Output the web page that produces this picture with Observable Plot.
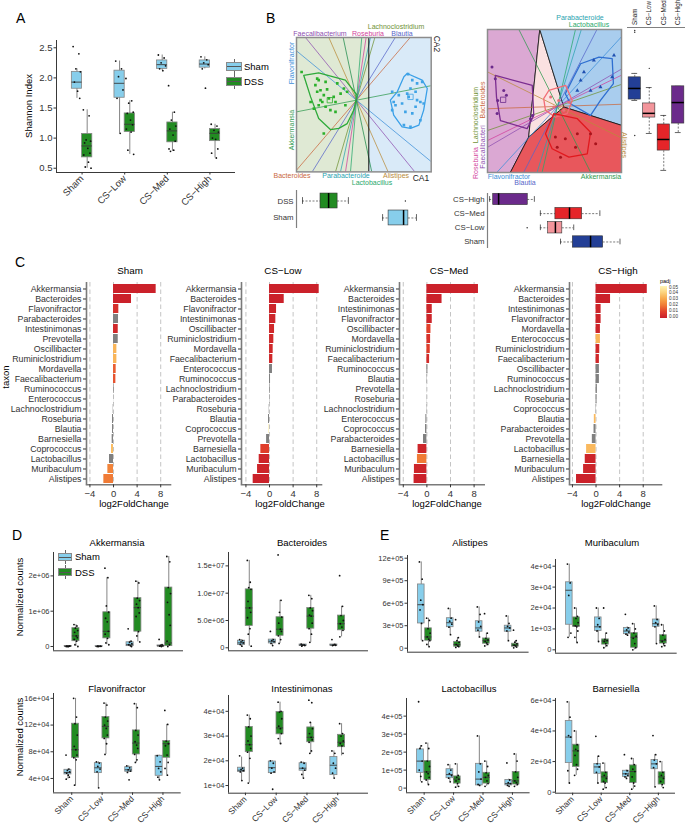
<!DOCTYPE html>
<html><head><meta charset="utf-8">
<script src="https://cdn.jsdelivr.net/npm/d3@7"></script>
<script src="https://cdn.jsdelivr.net/npm/@observablehq/plot@0.6"></script>
<style>
body{margin:0;background:#fff;}
#fig{position:relative;width:685px;height:827px;overflow:hidden;background:#fff;font-family:"Liberation Sans",Arial,Helvetica,sans-serif;}
</style></head><body><div id="fig"></div>
<script>
// ---------------- DATA ----------------
const groups = ["Sham","CS−Low","CS−Med","CS−High"];
const cohort = ["Sham","DSS"];

// Panel A: Shannon index, box stats [lo,q1,med,q3,hi]
const shanSham = [[1.66,1.82,1.93,2.10,2.15],[1.08,1.67,1.91,2.12,2.28],[2.12,2.15,2.22,2.29,2.38],[2.15,2.17,2.23,2.29,2.35]];
const shanDss  = [[0.50,0.68,0.87,1.07,1.47],[0.73,1.10,1.23,1.41,1.62],[0.78,0.93,1.12,1.26,1.43],[0.67,0.95,1.08,1.15,1.23]];
const shanShamPts = [[2.52,2.40,2.15,2.10,1.93,1.78,1.66],[2.28,2.15,2.02,1.80,1.66,1.08],[2.38,2.33,2.25,2.20,2.15,2.12],[2.35,2.30,2.25,2.22,2.15,1.83]];
const shanDssPts  = [[1.47,1.37,0.97,0.95,0.92,0.83,0.75,0.72,0.60,0.52,0.50],[1.99,1.62,1.58,1.43,1.41,1.30,1.22,1.15,1.10,0.80,0.73],[1.87,1.43,1.30,1.20,1.15,1.05,0.95,0.82,0.80,0.78],[1.23,1.20,1.13,1.10,1.00,0.98,0.82,0.75,0.67]];
const shanTicks = [0.5,1.0,1.5,2.0,2.5];
const shanTickLabels = ["0.5","1.0","1.5","2.0","2.5"];

// Panel B left: CA biplot DSS vs Sham
const bTaxCol = {Faecalibacterium:"#8e4fb0",Alistipes:"#b98b3a",Flavonifractor:"#3b8ed8",Akkermansia:"#2f9a4f",Bacteroides:"#c9683e",Blautia:"#5765c9",Roseburia:"#d23f9c",Lachnoclostridium:"#6f9236",Parabacteroides:"#2aa3b0",Lactobacillus:"#28a86b",Intestinimonas:"#1e8a4a"};
const bLtaxa = ["Faecalibacterium","Alistipes","Flavonifractor","Akkermansia","Bacteroides","Blautia","Roseburia","Lachnoclostridium","Parabacteroides","Lactobacillus","Intestinimonas"];
const bLdx = [-153,-83,-180,-180,-180,-133,-33,-63,-48,-18,-40];
const bLdy = [188,188,148,-35,-210,-215,-215,-215,-215,-215,188];
const bLsplit = 0.41;
const bLdssX = [-1.83,-1.31,-1.26,-1.03,-1.37,-1.2,-1.31,-0.98,-1.09,-1.2,-1.14,-0.92,-0.76,-0.7,-1.26,-1.03,-0.87,-0.7,-1.42,-0.64,-0.42,-0.31,-0.53,-0.37,-1.09,-1.53];
const bLdssY = [0.94,0.72,0.67,0.61,0.50,0.33,0.28,0.36,0.17,0,-0.06,0.06,0.11,-0.06,-0.17,-0.22,-0.33,-0.39,-0.28,0.56,0.39,0.28,0.22,-0.17,-1.11,-0.06];
const bLshamX = [1.72,1.86,2.02,2.19,1.8,1.97,1.69,1.19,1.41,1.24,1.3,1.52,1.74,2.02,2.13,2.24,1.63,1.86,2.13,1.8,1.58,1.19,1.97];
const bLshamY = [0.87,0.67,0.56,0.61,0.39,0.28,0.22,0.28,0.17,-0.06,-0.17,-0.11,0.11,0,-0.06,-0.11,-0.39,-0.44,-0.67,-0.89,-0.83,-0.33,-0.22];
const bLdssHullX = [-1.76,-1.26,-0.37,0.02,-0.09,-0.31,-0.59,-0.87,-1.26,-1.53];
const bLdssHullY = [0.83,0.91,0.67,0.17,-0.33,-0.78,-0.94,-0.98,-0.61,0.11];
const bLshamHullX = [1.69,2.19,2.36,2.24,2.08,1.8,1.52,1.24,1.13,1.36,1.58];
const bLshamHullY = [0.89,0.67,0.39,-0.33,-0.83,-0.94,-0.89,-0.5,0,0.28,0.78];
const bLcentX = [-0.89,1.8], bLcentY = [0,0.11];
const bLboxStats = [[0.87,1.07,1.57,1.73,2.0],[-1.8,-1.2,-0.93,-0.63,-0.27]]; // Sham, DSS (CA1)
const bLboxOut = [1.63]; // DSS row

// Panel B right: CA biplot by group
const bRtaxa = ["Bacteroides","Alistipes","Akkermansia","Flavonifractor","Blautia","Parabacteroides","Lactobacillus","Lachnoclostridium","Roseburia","Faecalibacterium"];
const bRdx = [-209,-209,99,-181,-101,-61,-46,-209,-209,-209];
const bRdy = [-7,103,-197,-197,-197,-197,-197,-72,-102,-122];
const bRgroupCol = {"Sham":"#233f96","CS−Low":"#f3959b","CS−Med":"#e52529","CS−High":"#6b2a8b"};
const bRregionCol = {"Sham":"#a9cdee","CS−Low":"#fbe1e1","CS−Med":"#e8575c","CS−High":"#dba8d3"};
const bRregionX = {"CS−High":[-2.33,-0.59,-0.96,-1.57,-2.33],"CS−Low":[-0.59,0.21,-0.96],"Sham":[-0.59,2.13,2.13,0.21],"CS−Med":[-0.96,0.21,2.13,2.13,-1.57]};
const bRregionY = {"CS−High":[2.56,2.56,-1.02,-2.2,-2.2],"CS−Low":[2.56,-0.02,-1.02],"Sham":[2.56,2.56,-0.63,-0.02],"CS−Med":[-1.02,-0.02,-0.63,-2.2,-2.2]};
const bRhullCol = {"Sham":"#2f6fd0","CS−Low":"#f26d75","CS−Med":"#e0191e","CS−High":"#7b2d90"};
const bRhullX = {"CS−High":[-2.07,-0.84,-0.79,-1.01,-1.9,-2.03],"Sham":[0.77,1.38,1.82,1.86,1.43,1.1,0.43,0.26,0.54],"CS−Low":[-0.29,0.27,0.49,0.32,-0.07,-0.4,-0.46],"CS−Med":[-0.12,0.66,1.1,0.99,0.38,-0.18,-0.4]};
const bRhullY = {"CS−High":[1.03,0.7,-0.3,-0.74,-0.47,0.31],"Sham":[1.42,1.64,1.59,0.76,0.2,-0.3,0.09,0.42,0.98],"CS−Low":[0.53,0.7,0.2,-0.24,-0.36,-0.13,0.26],"CS−Med":[-0.24,-0.41,-0.86,-1.58,-1.69,-1.41,-0.91]};
const bRptsX = {"CS−High":[-2.18,-1.79,-2.07,-2.01,-0.9,-0.84,-1.7,-1.99],"CS−Med":[-0.01,0.1,0.26,0.6,1.1,1.27,0.66,-0.07],"Sham":[1.21,1.88,1.82,0.77,0.66,1.1,1.43,0.88],"CS−Low":[-0.23,0.04,0.38,0.21,-0.12]};
const bRptsY = {"CS−High":[1.31,0.53,0.92,-0.24,-0.41,-0.3,0.37,0.2],"CS−Med":[-1.36,-1.69,-1.08,-1.36,-0.91,-1.24,-0.91,-1.02],"Sham":[1.53,1.7,0.98,0.87,0.53,0.53,0.64,1.14],"CS−Low":[0.31,0.2,0.14,-0.13,-0.02]};
const bRcentX = [-1.81], bRcentY = [0.22];
// CA1 box (rows Sham, CS-Low, CS-Med, CS-High)
const bRboxCA1 = [[0.1,0.51,1.1,1.52,2.08],[-0.57,-0.31,-0.07,0.16,0.54],[-0.57,-0.07,0.4,0.82,1.41],[-2.26,-2.14,-1.96,-0.99,-0.77]];
const bRboxCA1out = [[2,-1.01]];
// CA2 box (cols Sham, CS-Low, CS-Med, CS-High)
const bRboxCA2 = [[0.2,0.23,0.6,0.97,1.1],[-0.9,-0.37,-0.23,0.1,0.63],[-2.13,-1.47,-1.1,-0.6,-0.3],[-0.87,-0.57,0.13,0.67,0.67]];
const bRboxCA2out = [[1,2.53],[1,2.47],[1,-0.97],[2,1.27]];

// Panel C: DESeq2 log2FoldChange per cohort
const cFacets = ["Sham","CS−Low","CS−Med","CS−High"];
const cTaxaSham = ["Akkermansia","Bacteroides","Flavonifractor","Parabacteroides","Intestinimonas","Prevotella","Oscillibacter","Ruminiclostridium","Mordavella","Faecalibacterium","Ruminococcus","Enterococcus","Lachnoclostridium","Roseburia","Blautia","Barnesiella","Coprococcus","Lactobacillus","Muribaculum","Alistipes"];
const cLfcSham = [7.23,3.05,0.90,0.85,0.80,0.80,0.57,0.57,0.45,0.40,0.10,0.02,-0.05,-0.17,-0.17,-0.23,-0.34,-0.68,-0.96,-1.64];
const cPadjSham = [0.001,0.001,0.005,null,0.003,null,0.033,0.033,0.015,0.013,null,null,null,null,null,null,0.035,null,0.022,0.020];
const cTaxaLow = ["Akkermansia","Bacteroides","Flavonifractor","Intestinimonas","Oscillibacter","Ruminiclostridium","Mordavella","Faecalibacterium","Enterococcus","Ruminococcus","Lachnoclostridium","Parabacteroides","Roseburia","Blautia","Coprococcus","Prevotella","Barnesiella","Lactobacillus","Muribaculum","Alistipes"];
const cLfcLow = [8.42,2.49,1.19,1.07,0.85,0.73,0.62,0.56,0.50,0.17,0.10,0.05,-0.05,-0.17,-0.10,-0.50,-1.47,-1.75,-2.03,-2.77];
const cPadjLow = [0.001,0.001,0.002,0.002,0.003,0.003,0.003,0.003,null,null,null,null,null,null,0.048,null,0.009,0.002,0.002,0.001];
const cTaxaMed = ["Akkermansia","Bacteroides","Intestinimonas","Flavonifractor","Oscillibacter","Mordavella","Ruminiclostridium","Faecalibacterium","Ruminococcus","Blautia","Prevotella","Roseburia","Lachnoclostridium","Enterococcus","Coprococcus","Parabacteroides","Barnesiella","Lactobacillus","Muribaculum","Alistipes"];
const cLfcMed = [8.74,2.57,0.91,0.91,0.69,0.63,0.57,0.46,0.17,0.06,0.02,-0.03,-0.05,-0.17,-0.23,-0.57,-1.49,-1.60,-2.11,-2.17];
const cPadjMed = [0.001,0.001,0.002,0.002,0.010,0.006,0.009,0.004,null,null,null,null,null,null,null,null,0.002,0.020,0.002,0.001];
const cTaxaHigh = ["Akkermansia","Bacteroides","Intestinimonas","Flavonifractor","Mordavella","Enterococcus","Ruminiclostridium","Faecalibacterium","Oscillibacter","Ruminococcus","Lachnoclostridium","Roseburia","Coprococcus","Blautia","Parabacteroides","Prevotella","Lactobacillus","Barnesiella","Muribaculum","Alistipes"];
const cLfcHigh = [8.69,2.46,0.86,0.86,0.74,0.74,0.63,0.57,0.57,0.57,0.23,0.17,0.06,-0.29,-0.34,-0.63,-1.60,-1.83,-2.11,-3.31];
const cPadjHigh = [0.001,0.001,0.002,0.002,0.002,0.033,0.003,0.003,null,null,null,null,null,0.034,null,null,0.034,0.002,0.002,0.001];
const cDomains = [[-4.58,9.66],[-4.75,8.81],[-4.64,9.71],[-4.5,11.1]];
const cTicks = [-4,0,4,8];
const padjStops = [0,0.01,0.02,0.03,0.04,0.05];
const padjColors = ["#c81e2a","#e2402b","#f07b36","#f8a84a","#fcd27c","#fff4b5"];
const padjLabels = ["0.05","0.04","0.03","0.02","0.01","0.00"];

// Panels D/E: normalized counts (box stats [lo,q1,med,q3,hi] in display units)
const akkSham = [[0,0,0.005,0.012,0.02],[0,0,0.004,0.01,0.02],[0,0.01,0.05,0.12,0.15],[0,0.005,0.015,0.03,0.05]];
const akkDss = [[0,0.15,0.30,0.52,0.62],[0.05,0.23,0.43,0.97,1.95],[0.13,0.42,1.10,1.37,1.85],[0,0.01,0.10,1.67,2.55]];
const akkShamPts = [[0,0.01,0,0.02,0.01,0],[0,0.01,0,0.005,0.01],[0.5,0.15,0.12,0.08,0.05,0.02,0],[0.2,0.05,0.03,0.02,0.01,0]];
const akkDssPts = [[0.62,0.58,0.52,0.45,0.40,0.30,0.25,0.20,0.15,0.05,0],[2.22,1.95,1.15,0.97,0.80,0.70,0.43,0.35,0.23,0.10,0.05],[1.85,1.80,1.37,1.30,1.20,1.10,0.95,0.85,0.42,0.30,0.13],[2.55,2.40,1.67,1.50,1.25,0.90,0.60,0.15,0.05,0]];
const bacSham = [[0.2,0.5,0.9,1.3,1.5],[0.4,0.8,1.2,1.5,1.6],[0.25,0.35,0.5,0.6,0.65],[0.35,0.4,0.5,0.6,0.65]];
const bacDss = [[0.3,4.0,7.3,10.7,16.0],[0.8,2.2,3.4,5.6,8.7],[1.0,3.5,5.8,7.3,9.6],[2.0,3.2,4.4,5.9,7.6]];
const bacShamPts = [[1.5,1.3,1.1,0.9,0.6,0.3],[3.0,1.5,1.3,1.1,0.8,0.4],[0.65,0.55,0.5,0.4,0.3],[1.5,0.6,0.5,0.45,0.4]];
const bacDssPts = [[16,12,11,10.7,8.5,7.3,6.5,5.5,3.5,2.5,0.3],[17,8.7,6.5,5.6,4.5,3.4,3.0,2.2,1.5,0.8],[9.6,9.0,7.3,6.8,6.0,5.8,4.5,3.5,2.5,1.0],[13.2,7.6,5.9,5.0,4.4,3.8,3.2,2.0]];
const aliSham = [[1.0,3.3,5.8,8.5,11.5],[1.8,2.8,3.4,4.0,5.3],[1.5,2.2,2.7,3.6,5.5],[1.0,2.2,2.7,3.0,4.3]];
const aliDss = [[0.2,1.0,1.5,2.65,4.0],[0.1,0.2,0.5,0.85,1.4],[0.3,0.6,1.0,1.3,2.0],[0.05,0.2,0.4,0.6,1.0]];
const aliShamPts = [[11.5,9.2,6.4,5.8,5.1,3.3,1.0],[5.3,4.0,3.6,3.2,2.8,1.8],[5.5,4.5,3.5,2.9,2.4,1.5],[4.3,3.3,2.9,2.7,2.3,1.0]];
const aliDssPts = [[4.0,3.7,2.6,2.0,1.5,1.2,1.0,0.5,0.2],[3.8,1.4,1.0,0.8,0.5,0.3,0.2,0.1],[4.6,2.0,1.3,1.1,0.9,0.7,0.5,0.3],[2.4,1.0,0.8,0.6,0.4,0.3,0.15,0.05]];
const murSham = [[0.6,1.2,2.85,3.23,4.1],[0.4,0.9,1.1,1.55,2.0],[0.7,0.75,0.9,1.05,1.1],[0.3,1.1,1.25,1.45,2.1]];
const murDss = [[0.35,1.1,1.15,1.55,2.0],[0.1,0.25,0.42,0.5,0.8],[0,0.1,0.6,0.8,1.25],[0.15,0.3,0.45,0.7,1.2]];
const murShamPts = [[4.1,3.2,2.6,0.8,0.6],[2.0,1.5,1.2,1.1,0.9,0.4],[1.7,1.05,0.95,0.85,0.75,0.7],[2.1,1.45,1.3,1.2,1.1,0.3]];
const murDssPts = [[2.0,1.6,1.5,1.3,1.15,1.1,0.9,0.6,0.35],[2.0,0.8,0.5,0.45,0.4,0.3,0.2,0.1],[1.25,1.0,0.8,0.65,0.55,0.3,0.1,0],[1.2,0.9,0.7,0.5,0.4,0.3,0.2,0.15]];
const flaSham = [[3.9,4.6,4.9,5.3,5.4],[2.6,4.8,5.6,6.3,6.5],[4.9,5.0,5.3,5.7,5.9],[3.8,4.4,5.8,7.4,7.5]];
const flaDss = [[2.9,7.1,8.3,12.2,16.0],[7.6,10.0,11.8,13.2,15.3],[6.4,7.6,9.3,11.2,15.2],[4.5,7.1,9.2,9.6,12.1]];
const flaShamPts = [[7.5,5.4,5.2,5.0,4.8,4.5,4.2,3.9],[6.5,6.3,5.8,5.4,5.0,2.6],[5.9,5.6,5.3,5.1,4.9,3.8],[7.4,6.5,5.5,5.0,4.2,3.8]];
const flaDssPts = [[16,13.2,12.2,10.5,8.8,8.3,7.5,7.1,6.8,3.0],[15.3,15,13.2,12.6,12,11.5,10.5,10,9.2,7.6],[15.2,14.6,11.2,10.5,9.5,9.0,8.5,7.6,6.8,6.4],[14.2,12.1,9.6,9.2,8.9,7.5,6.4,5.5,4.5]];
const intSham = [[1.2,1.55,1.62,1.72,2.15],[1.5,1.5,1.72,1.97,2.0],[1.3,1.6,1.7,1.9,1.95],[1.3,1.42,1.82,2.15,2.4]];
const intDss = [[1.1,2.35,2.65,3.37,3.85],[2.65,3.07,3.33,3.97,4.37],[2.3,2.75,2.95,3.35,3.55],[2.2,2.55,2.75,3.05,3.5]];
const intShamPts = [[2.2,1.7,1.65,1.6,1.55,1.2],[2.0,1.9,1.7,1.55,1.5,0.85],[1.95,1.9,1.7,1.62,1.45,1.3],[2.4,2.3,1.9,1.7,1.5,1.3]];
const intDssPts = [[3.85,3.7,3.37,3.0,2.8,2.65,2.5,2.35,2.1,1.1],[4.37,4.0,3.97,3.7,3.4,3.3,3.1,2.9,2.7],[4.45,4.35,3.55,3.3,3.1,2.95,2.85,2.75,2.4,2.3],[3.5,3.1,3.0,2.8,2.7,2.6,2.3]];
const lacSham = [[0.35,0.85,1.5,2.15,2.35],[0.35,0.55,0.75,1.05,1.3],[0.15,0.15,0.5,1.35,2.9],[0.1,0.15,0.25,0.45,0.5]];
const lacDss = [[0.2,0.45,0.9,1.5,2.5],[0.05,0.25,0.5,0.65,1.35],[0.1,0.25,0.6,0.85,1.5],[0.1,0.2,0.4,0.9,1.9]];
const lacShamPts = [[4.8,2.35,2.2,1.5,1.0,0.65,0.35],[1.3,1.0,0.8,0.7,0.55,0.35],[2.9,1.35,0.9,0.5,0.2,0.15],[1.4,0.45,0.3,0.25,0.15,0.1]];
const lacDssPts = [[2.5,2.2,1.5,1.2,0.9,0.8,0.6,0.45,0.2],[1.35,0.7,0.6,0.5,0.4,0.25,0.1,0.05],[1.5,1.2,0.85,0.7,0.6,0.4,0.25,0.1],[1.9,1.5,0.9,0.6,0.4,0.3,0.2,0.1]];
const barSham = [[0.6,1.9,3.6,4.65,5.9],[0.6,1.2,1.65,1.85,2.35],[0.9,1.0,1.2,1.4,1.45],[0.35,1.5,1.85,2.1,2.45]];
const barDss = [[1.1,1.65,2.7,3.1,4.0],[0.2,0.6,1.0,1.3,1.9],[0.2,0.6,1.35,1.75,2.2],[0.3,0.5,1.0,1.3,2.0]];
const barShamPts = [[5.9,4.9,3.7,3.6,1.4,0.6],[3.65,2.35,1.85,1.65,1.3,0.6],[2.45,1.4,1.2,1.1,1.0,0.9],[3.7,2.45,2.1,1.85,1.6,0.35]];
const barDssPts = [[4.0,3.1,2.8,2.7,2.4,1.8,1.5,1.1],[1.9,1.3,1.1,0.9,0.7,0.6,0.3,0.2],[2.2,1.8,1.5,1.35,1.0,0.6,0.4,0.2],[2.0,1.3,1.1,0.9,0.7,0.5,0.3]];

// ---------------- HELPERS ----------------
const FONT = '"Liberation Sans", Arial, Helvetica, sans-serif';
const fig = document.getElementById("fig");
const SHAM_COL = "#87CEEB", DSS_COL = "#228B22";
const jit = [-0.9,0.45,-0.25,0.8,-0.6,0.15,0.65,-0.8,0.3,-0.45,0.9,-0.1];

function mount(svg, fx, fy, mL, mT){
  svg.style.position = "absolute";
  svg.style.left = (fx - mL) + "px";
  svg.style.top = (fy - mT) + "px";
  fig.append(svg);
}
function lab(t, x, y, o = {}){
  const d = document.createElement("div");
  d.textContent = t;
  const a = o.anchor === "start" ? 0 : o.anchor === "end" ? -100 : -50;
  Object.assign(d.style, {position:"absolute", left:x+"px", top:y+"px", whiteSpace:"nowrap", lineHeight:"1",
    fontSize:(o.size||9.5)+"px", color:o.color||"#000", transformOrigin:"0 0",
    transform:`rotate(${o.rot||0}deg) translate(${a}%, -50%)`});
  fig.append(d);
}
function legendKey(x, y, w, h, col){
  const wl = document.createElement("div");
  Object.assign(wl.style,{position:"absolute", left:(x+w/2-0.5)+"px", top:(y-3)+"px", width:"1px", height:(h+6)+"px", background:"#666"});
  fig.append(wl);
  const d = document.createElement("div");
  Object.assign(d.style,{position:"absolute", left:x+"px", top:y+"px", width:w+"px", height:h+"px", background:col, border:"1px solid #8a8a8a", boxSizing:"border-box"});
  const m = document.createElement("div");
  Object.assign(m.style,{position:"absolute", left:"0", right:"0", top:(h/2-1.5)+"px", borderTop:"1px solid #555"});
  d.append(m);
  fig.append(d);
}
const baseStyle = (fs) => ({background:"none", fontFamily:FONT, fontSize:fs+"px", color:"#333", overflow:"visible", maxWidth:"none"});

function dodgeBox(o){
  const {fx, fy, fw, fh, xdom=[0.4,4.6], ydom, ticks, tickLabels, sham, dss, shamPts, dssPts,
    unit=1, xLabels=false, tickFont=7.5, xFont=8.5, hw=0.115, off=0.125, jw=0.07} = o;
  const mL=45, mT=6, mR=6, mB = xLabels ? 48 : 6;
  const boxes = [], pts = [];
  groups.forEach((g,i)=>{
    [[sham,shamPts,SHAM_COL,-off],[dss,dssPts,DSS_COL,off]].forEach(([st,pp,col,of])=>{
      const c = i+1+of;
      const s = st[i];
      boxes.push({c, lo:s[0]*unit, q1:s[1]*unit, med:s[2]*unit, q3:s[3]*unit, hi:s[4]*unit, col});
      pp[i].forEach((v,k)=>pts.push({x:c + jit[k%jit.length]*jw, y:v*unit}));
    });
  });
  const yd = [ydom[0]*unit, ydom[1]*unit];
  const tk = ticks.map(t=>t*unit);
  const marks = [
    Plot.ruleX(boxes,{x:"c", y1:"lo", y2:"hi", stroke:"#333", strokeWidth:0.6}),
    Plot.rect(boxes,{x1:d=>d.c-hw, x2:d=>d.c+hw, y1:"q1", y2:"q3", fill:"col", stroke:"#858585", strokeWidth:0.8}),
    Plot.ruleY(boxes,{x1:d=>d.c-hw, x2:d=>d.c+hw, y:"med", stroke:"#3a3a3a", strokeWidth:0.9}),
    Plot.dot(pts,{x:"x", y:"y", r:0.9, fill:"#111"}),
    Plot.ruleX([xdom[0]],{stroke:"#222", strokeWidth:0.9}),
    Plot.ruleY([yd[0]],{stroke:"#222", strokeWidth:0.9}),
    Plot.axisY({ticks:tk, tickFormat:d=>tickLabels[tk.indexOf(d)], tickSize:2.5, tickPadding:1.5, label:null})
  ];
  if (xLabels) marks.push(Plot.axisX({ticks:[1,2,3,4], tickFormat:d=>groups[d-1], tickRotate:-45, tickSize:2.5, tickPadding:2, label:null, fontSize:xFont}));
  const p = Plot.plot({
    width:mL+fw+mR, height:mT+fh+mB, marginLeft:mL, marginRight:mR, marginTop:mT, marginBottom:mB,
    style:baseStyle(tickFont),
    x: xLabels ? {domain:xdom} : {domain:xdom, axis:null},
    y: {domain:yd},
    marks
  });
  mount(p, fx, fy, mL, mT);
}

function closeRing(xs, ys, extra){ const out = xs.map((x,i)=>({x, y:ys[i], ...extra})); out.push({x:xs[0], y:ys[0], ...extra}); return out; }

function biplot(o){
  const {fx, fy, fw, fh, xdom, ydom, regions, regionStroke, split, rays, hulls, points, cents} = o;
  const m = 2;
  const marks = [
    Plot.line(regions,{x:"x", y:"y", z:"g", fill:"fill", stroke:regionStroke||"none", strokeWidth:0.8, clip:true}),
    Plot.link(rays,{x1:"x1", y1:"y1", x2:"x2", y2:"y2", stroke:"col", strokeWidth:0.75, clip:true})
  ];
  if (split != null) marks.push(Plot.ruleX([split],{stroke:"#111", strokeWidth:1}));
  marks.push(
    Plot.line(hulls,{x:"x", y:"y", z:"g", stroke:"col", strokeWidth:1.3, clip:true}),
    Plot.dot(points,{x:"x", y:"y", symbol:"sym", fill:"col", r:1.5, clip:true}),
    Plot.dot(cents,{x:"x", y:"y", symbol:"square", stroke:"col", fill:"none", r:3, strokeWidth:0.8}),
    Plot.frame({stroke:"#8c8c8c", strokeWidth:1.5})
  );
  const p = Plot.plot({width:fw+2*m, height:fh+2*m, margin:m, style:baseStyle(8),
    x:{domain:xdom, axis:null}, y:{domain:ydom, axis:null}, marks});
  mount(p, fx, fy, m, m);
}

function rayData(taxa, dx, dy){
  return taxa.map((t,i)=>{ const n = Math.hypot(dx[i],dy[i]); const k = 8/n;
    return {x1:-dx[i]*k, y1:-dy[i]*k, x2:dx[i]*k, y2:dy[i]*k, col:bTaxCol[t]}; });
}

function baseBox(o){
  // horizontal=true: values on x, rows on y
  const {fx, fy, fw, fh, vdom, rdom, labels, stats, cols, outl, font=7.8, horizontal=true, hh=0.42} = o;
  const rows = stats.map((s,i)=>({r:i+1, lo:s[0], q1:s[1], med:s[2], q3:s[3], hi:s[4], col:cols[i]}));
  const out = outl.map(([r,v])=>({r, v}));
  const cap = 0.2;
  const mL = 40, mT = 3, mR = 3, mB = 3;
  let marks;
  if (horizontal){
    marks = [
      Plot.ruleY(rows,{y:"r", x1:"lo", x2:"q1", stroke:"#222", strokeWidth:0.6, strokeDasharray:"2,1.5"}),
      Plot.ruleY(rows,{y:"r", x1:"q3", x2:"hi", stroke:"#222", strokeWidth:0.6, strokeDasharray:"2,1.5"}),
      Plot.ruleX(rows,{x:"lo", y1:d=>d.r-cap, y2:d=>d.r+cap, stroke:"#222", strokeWidth:0.7}),
      Plot.ruleX(rows,{x:"hi", y1:d=>d.r-cap, y2:d=>d.r+cap, stroke:"#222", strokeWidth:0.7}),
      Plot.rect(rows,{x1:"q1", x2:"q3", y1:d=>d.r-hh, y2:d=>d.r+hh, fill:"col", stroke:"#333", strokeWidth:0.6}),
      Plot.ruleX(rows,{x:"med", y1:d=>d.r-hh, y2:d=>d.r+hh, stroke:"#000", strokeWidth:1.5}),
      Plot.dot(out,{x:"v", y:"r", r:0.7, fill:"#222"}),
      Plot.ruleX([vdom[0]],{stroke:"#808080", strokeWidth:1.2}),
      Plot.axisY({ticks:rows.map(d=>d.r), tickFormat:d=>labels[d-1], tickSize:0, tickPadding:3, label:null, fontSize:font})
    ];
  } else {
    marks = [
      Plot.ruleX(rows,{x:"r", y1:"lo", y2:"q1", stroke:"#222", strokeWidth:0.6, strokeDasharray:"2,1.5"}),
      Plot.ruleX(rows,{x:"r", y1:"q3", y2:"hi", stroke:"#222", strokeWidth:0.6, strokeDasharray:"2,1.5"}),
      Plot.ruleY(rows,{y:"lo", x1:d=>d.r-cap, x2:d=>d.r+cap, stroke:"#222", strokeWidth:0.7}),
      Plot.ruleY(rows,{y:"hi", x1:d=>d.r-cap, x2:d=>d.r+cap, stroke:"#222", strokeWidth:0.7}),
      Plot.rect(rows,{y1:"q1", y2:"q3", x1:d=>d.r-hh, x2:d=>d.r+hh, fill:"col", stroke:"#333", strokeWidth:0.6}),
      Plot.ruleY(rows,{y:"med", x1:d=>d.r-hh, x2:d=>d.r+hh, stroke:"#000", strokeWidth:1.5}),
      Plot.dot(out,{y:"v", x:"r", r:0.7, fill:"#222"}),
      Plot.ruleY([vdom[1]],{stroke:"#808080", strokeWidth:1.2})
    ];
  }
  const p = Plot.plot({width:mL+fw+mR, height:mT+fh+mB, marginLeft:mL, marginTop:mT, marginRight:mR, marginBottom:mB,
    style:baseStyle(font),
    x: horizontal ? {domain:vdom, axis:null} : {domain:rdom, axis:null},
    y: horizontal ? {domain:rdom} : {domain:vdom, axis:null},
    marks});
  mount(p, fx, fy, mL, mT);
}

// ---------------- PANEL A ----------------
lab("A", 16, 18, {size:14, anchor:"start"});
dodgeBox({fx:56, fy:40, fw:179, fh:132, ydom:[0.429,2.621], ticks:shanTicks, tickLabels:shanTickLabels,
  sham:shanSham, dss:shanDss, shamPts:shanShamPts, dssPts:shanDssPts, xLabels:true, tickFont:9.5, xFont:9.5,
  hw:0.12, off:0.12, jw:0.1});
lab("Shannon Index", 29, 106, {size:9.5, rot:-90});
legendKey(226, 62, 16, 9, SHAM_COL); lab(cohort[0], 244, 67, {size:9.5, anchor:"start"});
legendKey(226, 77, 16, 9, DSS_COL); lab(cohort[1], 244, 82, {size:9.5, anchor:"start"});

// ---------------- PANEL B ----------------
lab("B", 266, 18, {size:14, anchor:"start"});
const bLx = [-2.0, 2.49], bLy = [-2.39, 2.09];
const bLregions = [
  ...closeRing([bLx[0], bLsplit, bLsplit, bLx[0]], [bLy[0], bLy[0], bLy[1], bLy[1]], {g:"DSS", fill:"#dfe9d4"}),
  ...closeRing([bLsplit, bLx[1], bLx[1], bLsplit], [bLy[0], bLy[0], bLy[1], bLy[1]], {g:"Sham", fill:"#d9eaf8"})
];
const bLhulls = [...closeRing(bLdssHullX, bLdssHullY, {g:"DSS", col:"#2eaa3a"}), ...closeRing(bLshamHullX, bLshamHullY, {g:"Sham", col:"#3aa0e8"})];
const bLpts = [...bLdssX.map((x,i)=>({x, y:bLdssY[i], sym:"square", col:"#2bb02b"})), ...bLshamX.map((x,i)=>({x, y:bLshamY[i], sym:"square", col:"#3fa3e6"}))];
const bLcents = bLcentX.map((x,i)=>({x, y:bLcentY[i], col:["#2bb02b","#3fa3e6"][i]}));
biplot({fx:296, fy:37.3, fw:134.7, fh:134.4, xdom:bLx, ydom:bLy, regions:bLregions, split:bLsplit,
  rays:rayData(bLtaxa, bLdx, bLdy), hulls:bLhulls, points:bLpts, cents:bLcents});
const tc = bTaxCol;
lab("Lachnoclostridium", 396, 26, {size:7, color:tc.Lachnoclostridium});
lab("Faecalibacterium", 320, 33, {size:7, color:tc.Faecalibacterium});
lab("Roseburia", 368, 33, {size:7, color:tc.Roseburia});
lab("Blautia", 402, 33, {size:7, color:tc.Blautia});
lab("CA2", 437, 44, {size:8.5, rot:90, color:"#222"});
lab("Flavonifractor", 291, 63, {size:7, rot:-90, color:tc.Flavonifractor});
lab("Akkermansia", 291, 130, {size:7, rot:-90, color:tc.Akkermansia});
lab("Bacteroides", 292, 175, {size:7, color:tc.Bacteroides});
lab("Parabacteroide", 346, 175, {size:7, color:tc.Parabacteroides});
lab("Lactobacillus", 372, 181.5, {size:7, color:tc.Lactobacillus});
lab("Alistipes", 396, 175, {size:7, color:tc.Alistipes});
lab("CA1", 421, 177.5, {size:8.5, color:"#222"});
baseBox({fx:296, fy:190, fw:134.7, fh:38, vdom:bLx, rdom:[0.38,2.62], labels:cohort,
  stats:bLboxStats, cols:[SHAM_COL, DSS_COL], outl:[[2, bLboxOut[0]]], hh:0.44});

// right biplot
const bRx = [-2.33, 2.13], bRy = [-2.2, 2.56];
const bRregions = Object.keys(bRregionX).flatMap(g=>closeRing(bRregionX[g], bRregionY[g], {g, fill:bRregionCol[g]}));
const bRhulls = Object.keys(bRhullX).flatMap(g=>closeRing(bRhullX[g], bRhullY[g], {g, col:bRhullCol[g]}));
const bRsym = {"Sham":"triangle","CS−Low":"circle","CS−Med":"circle","CS−High":"circle"};
const bRptCol = {"Sham":"#1f4fb0","CS−Low":"#e8707a","CS−Med":"#a8141c","CS−High":"#6b2a8b"};
const bRpts = Object.keys(bRptsX).flatMap(g=>bRptsX[g].map((x,i)=>({x, y:bRptsY[g][i], sym:bRsym[g], col:bRptCol[g]})));
const bRcents = bRcentX.map((x,i)=>({x, y:bRcentY[i], col:"#6b2a8b"}));
biplot({fx:487, fy:29, fw:134, fh:143, xdom:bRx, ydom:bRy, regions:bRregions, regionStroke:"#111",
  rays:rayData(bRtaxa, bRdx, bRdy), hulls:bRhulls, points:bRpts, cents:bRcents});
lab("Parabacteroide", 580, 17, {size:7, color:tc.Parabacteroides});
lab("Lactobacillus", 589, 23.5, {size:7, color:tc.Lactobacillus});
lab("Lachnoclostridium", 474.5, 115, {size:7, rot:-90, color:tc.Lachnoclostridium});
lab("Roseburia", 474.5, 163, {size:7, rot:-90, color:tc.Roseburia});
lab("Bacteroides", 481.5, 100, {size:7, rot:-90, color:tc.Bacteroides});
lab("Faecalibacteri", 481.5, 147, {size:7, rot:-90, color:tc.Faecalibacterium});
lab("Flavonifractor", 509, 175.5, {size:7, color:tc.Flavonifractor});
lab("Blautia", 525, 182, {size:7, color:tc.Blautia});
lab("Akkermansia", 601, 175.5, {size:7, color:tc.Akkermansia});
lab("Alistipes", 624, 145, {size:7, rot:90, color:tc.Alistipes});
baseBox({fx:487, fy:193, fw:134, fh:55, vdom:bRx, rdom:[0.54,4.42], labels:groups,
  stats:bRboxCA1, cols:groups.map(g=>bRgroupCol[g]), outl:bRboxCA1out, hh:0.4});
baseBox({fx:627.25, fy:27, fw:58, fh:145, vdom:[-2.2,2.63], rdom:[0.5,4.5], labels:groups, horizontal:false,
  stats:bRboxCA2, cols:groups.map(g=>bRgroupCol[g]), outl:bRboxCA2out, hh:0.42});
[634.5, 649, 663.5, 678].forEach((x,i)=>lab(groups[i], x, 25, {size:6.3, rot:-90, anchor:"start", color:"#222"}));

// ---------------- PANEL C ----------------
lab("C", 15, 262, {size:14, anchor:"start"});
const padColor = d3.scaleLinear().domain(padjStops).range(padjColors).clamp(true);
const cSets = [[cTaxaSham,cLfcSham,cPadjSham],[cTaxaLow,cLfcLow,cPadjLow],[cTaxaMed,cLfcMed,cPadjMed],[cTaxaHigh,cLfcHigh,cPadjHigh]];
const cFrameX = [[86,170],[240.7,320.7],[399.3,484],[568.7,660.7]];
const cTitleX = [130,283,449,618], cXTitleX = [134,290,447,616];
cSets.forEach(([taxa, lfc, padj], k)=>{
  const data = taxa.map((t,i)=>({t, v:lfc[i], f: padj[i]==null ? "#808080" : padColor(padj[i])}));
  const [x0, x1] = cFrameX[k];
  const mL=84, mT=4, mR=4, mB=28, fh=202.3;
  const p = Plot.plot({width:mL+(x1-x0)+mR, height:mT+fh+mB, marginLeft:mL, marginTop:mT, marginRight:mR, marginBottom:mB,
    style:baseStyle(8.8),
    x:{domain:cDomains[k]}, y:{domain:taxa, paddingInner:0.12, paddingOuter:0.16},
    marks:[
      Plot.ruleX(cTicks,{stroke:"#c4c4c4", strokeDasharray:"4.5,3", strokeWidth:1}),
      Plot.barX(data,{x:"v", y:"t", fill:"f"}),
      Plot.ruleX([cDomains[k][0]],{stroke:"#7a7a7a", strokeWidth:1.6}),
      Plot.frame({anchor:"bottom", stroke:"#7a7a7a", strokeWidth:1.6}),
      Plot.axisY({tickSize:3, tickPadding:2, label:null, fontSize:8.8}),
      Plot.axisX({ticks:cTicks, tickFormat:d=>d<0 ? "−"+Math.abs(d) : String(d), tickSize:3, tickPadding:2, label:null, fontSize:9.5})
    ]});
  mount(p, x0, 282, mL, mT);
  lab(cFacets[k], cTitleX[k], 270.5, {size:9.8});
  lab("log2FoldChange", cXTitleX[k], 503.5, {size:9.5});
});
lab("taxon", 6, 377, {size:9.5, rot:-90});
lab("padj", 660, 282, {size:5.5, anchor:"start"});
{
  const g = document.createElement("div");
  Object.assign(g.style,{position:"absolute", left:"660px", top:"286px", width:"7px", height:"32px",
    background:`linear-gradient(to bottom, ${[...padjColors].reverse().join(",")})`});
  fig.append(g);
  padjLabels.forEach((t,i)=>lab(t, 669, 287.5 + i*5.9, {size:4.6, anchor:"start", color:"#333"}));
}

// ---------------- PANELS D / E ----------------
lab("D", 12, 535, {size:14, anchor:"start"});
lab("E", 380, 535, {size:14, anchor:"start"});
const dePanels = [
  {title:"Akkermansia", tx:117, ty:543, fx:53.3, fy:551.7, fw:130, fh:98.3, ydom:[-0.122,2.663], ticks:[0,1,2], tickLabels:["0","1e+06","2e+06"], unit:1e6, sham:akkSham, dss:akkDss, shamPts:akkShamPts, dssPts:akkDssPts},
  {title:"Bacteroides", tx:302, ty:543, fx:227.7, fy:551.7, fw:140, fh:98.3, xdom:[0.45,5.0], ydom:[-0.55,17.45], ticks:[0,5,10,15], tickLabels:["0","5.0e+06","1.0e+07","1.5e+07"], unit:1e6, sham:bacSham, dss:bacDss, shamPts:bacShamPts, dssPts:bacDssPts},
  {title:"Alistipes", tx:470, ty:543, fx:406.7, fy:555, fw:121.6, fh:96.7, ydom:[-0.53,12.36], ticks:[0,3,6,9,12], tickLabels:["0","3e+05","6e+05","9e+05","12e+05"], unit:1e5, sham:aliSham, dss:aliDss, shamPts:aliShamPts, dssPts:aliDssPts},
  {title:"Muribaculum", tx:612, ty:543, fx:555, fy:559, fw:121.7, fh:93.7, ydom:[-0.16,4.32], ticks:[0,1,2,3,4], tickLabels:["0","1e+03","2e+04","3e+04","4e+04"], unit:1e4, sham:murSham, dss:murDss, shamPts:murShamPts, dssPts:murDssPts},
  {title:"Flavonifractor", tx:117, ty:689, fx:53.3, fy:693.3, fw:127.7, fh:99.4, ydom:[1.84,16.73], ticks:[4,8,12,16], tickLabels:["4e+04","8e+04","12e+04","16e+04"], unit:1e4, sham:flaSham, dss:flaDss, shamPts:flaShamPts, dssPts:flaDssPts, xLabels:true},
  {title:"Intestinimonas", tx:302, ty:689, fx:227.7, fy:695, fw:140, fh:97.7, xdom:[0.45,5.0], ydom:[0.69,4.64], ticks:[1,2,3,4], tickLabels:["1e+04","2e+04","3e+04","4e+04"], unit:1e4, sham:intSham, dss:intDss, shamPts:intShamPts, dssPts:intDssPts, xLabels:true},
  {title:"Lactobacillus", tx:469, ty:689, fx:405.7, fy:698, fw:123.6, fh:94.3, ydom:[-0.26,4.98], ticks:[0,1,2,3,4], tickLabels:["0","1e+05","2e+05","3e+05","4e+05"], unit:1e5, sham:lacSham, dss:lacDss, shamPts:lacShamPts, dssPts:lacDssPts, xLabels:true},
  {title:"Barnesiella", tx:616, ty:689, fx:555, fy:698, fw:120, fh:94.7, ydom:[-0.065,6.12], ticks:[0,2,4,6], tickLabels:["0","2e+04","4e+04","6e+04"], unit:1e4, sham:barSham, dss:barDss, shamPts:barShamPts, dssPts:barDssPts, xLabels:true}
];
dePanels.forEach(pn=>{
  dodgeBox(pn);
  lab(pn.title, pn.tx, pn.ty, {size:9.5});
});
lab("Normalized counts", 20, 597, {size:9.5, rot:-90});
lab("Normalized counts", 20, 737, {size:9.5, rot:-90});
legendKey(58, 553, 14, 8, SHAM_COL); lab(cohort[0], 75, 557, {size:9.5, anchor:"start"});
legendKey(58, 568, 14, 8, DSS_COL); lab(cohort[1], 75, 572.5, {size:9.5, anchor:"start"});
</script></body></html>
